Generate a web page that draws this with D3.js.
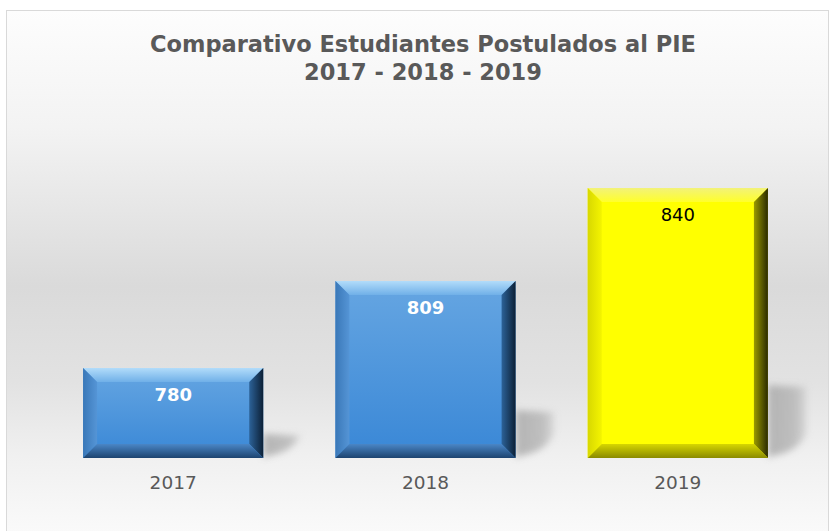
<!DOCTYPE html>
<html>
<head>
<meta charset="utf-8">
<script src="https://cdn.jsdelivr.net/npm/d3@7"></script>
<style>
  html, body { margin: 0; padding: 0; background: #fff; }
  svg { display: block; }
</style>
</head>
<body>
<div id="chart"></div>
<script>
// datos
const years = ["2017", "2018", "2019"];
const values = [780, 809, 840];
const titleLines = ["Comparativo Estudiantes Postulados al PIE", "2017 - 2018 - 2019"];
const yDomain = [750, 850];

const width = 829, height = 531;
const plot = { left: 47, right: 804, top: 158, bottom: 458 };
const bevel = 14;

const svg = d3.select("#chart").append("svg")
  .attr("width", width)
  .attr("height", height);

const defs = svg.append("defs");

function linGrad(id, x1, y1, x2, y2, stops) {
  const g = defs.append("linearGradient").attr("id", id)
    .attr("x1", x1).attr("y1", y1).attr("x2", x2).attr("y2", y2);
  stops.forEach(s => g.append("stop").attr("offset", s[0]).attr("stop-color", s[1]));
}

// fondo
linGrad("bg", 0, 0, 0, 1, [
  ["0%", "#fdfdfd"], ["22%", "#f3f3f3"], ["52%", "#dadada"],
  ["70%", "#e2e2e2"], ["84%", "#f0f0f0"], ["100%", "#fbfbfb"]
]);

// paletas de biseles
const palettes = {
  blue: {
    face: ["#66a6e2", "#3987d6"],
    top: ["#b2dcfa", "#70b0e8"],
    left: ["#3a78b8", "#5595d6"],
    right: ["#2c6298", "#0c2036"],
    bottom: ["#4a86c6", "#1d4470"],
    label: "#fff", weight: "bold"
  },
  yellow: {
    face: ["#ffff00", "#ffff00"],
    top: ["#f2f27a", "#ffff2a"],
    left: ["#d8d800", "#f4f400"],
    right: ["#9a9a00", "#2a2a00"],
    bottom: ["#d6d600", "#8a8a00"],
    label: "#000", weight: "normal"
  }
};

Object.entries(palettes).forEach(([k, p]) => {
  linGrad(k + "-face", 0, 0, 0, 1, [["0%", p.face[0]], ["100%", p.face[1]]]);
  linGrad(k + "-top", 0, 0, 0, 1, [["0%", p.top[0]], ["100%", p.top[1]]]);
  linGrad(k + "-left", 0, 0, 1, 0, [["0%", p.left[0]], ["100%", p.left[1]]]);
  linGrad(k + "-right", 0, 0, 1, 0, [["0%", p.right[0]], ["100%", p.right[1]]]);
  linGrad(k + "-bottom", 0, 0, 0, 1, [["0%", p.bottom[0]], ["100%", p.bottom[1]]]);
});

linGrad("shadow", 0, 0, 1, 0, [["0%", "#a6a6a6"], ["70%", "#b4b4b4"], ["100%", "#d0d0d0"]]);

defs.append("filter").attr("id", "blur")
  .attr("x", "-50%").attr("y", "-50%").attr("width", "200%").attr("height", "200%")
  .append("feGaussianBlur").attr("stdDeviation", 3.5);

svg.append("rect")
  .attr("x", 6.5).attr("y", 10.5)
  .attr("width", 822).attr("height", 530)
  .attr("fill", "url(#bg)")
  .attr("stroke", "#d9d9d9");

// titulo
svg.append("g").selectAll("text")
  .data(titleLines)
  .join("text")
  .attr("x", 423)
  .attr("y", (d, i) => 52 + i * 28)
  .attr("text-anchor", "middle")
  .attr("font-family", "DejaVu Sans, Verdana, sans-serif")
  .attr("font-weight", "bold")
  .attr("font-size", 22.5)
  .attr("fill", "#595959")
  .text(d => d);

const x = d3.scaleBand().domain(years).range([plot.left, plot.right]).paddingInner(0.286).paddingOuter(0.143);
const y = d3.scaleLinear().domain(yDomain).range([plot.bottom, plot.top]);
const color = d3.scaleOrdinal().domain(years).range(["blue", "blue", "yellow"]);

const data = years.map((yr, i) => ({ year: yr, value: values[i] }));

// sombras
svg.append("g").selectAll("path")
  .data(data)
  .join("path")
  .attr("filter", "url(#blur)")
  .attr("fill", "url(#shadow)")
  .attr("opacity", 0.8)
  .attr("d", d => {
    const x1 = x(d.year) + x.bandwidth();
    const b = y(yDomain[0]);
    const h = b - y(d.value);
    const t = b - h * 0.27;
    return `M${x1},${t} L${x1 + 38},${t + 2} L${x1 + 38},${b - 24} Q${x1 + 30},${b - 6} ${x1 + 4},${b - 2} L${x1},${b} Z`;
  });

// barras
const bars = svg.append("g").selectAll("g")
  .data(data)
  .join("g");

bars.each(function(d) {
  const g = d3.select(this);
  const k = color(d.year);
  const x0 = x(d.year), x1 = x0 + x.bandwidth();
  const y0 = y(d.value), y1 = y(yDomain[0]);
  const b = bevel;
  g.append("rect")
    .attr("x", x0).attr("y", y0)
    .attr("width", x1 - x0).attr("height", y1 - y0)
    .attr("fill", `url(#${k}-face)`);
  const polys = {
    top: [[x0, y0], [x1, y0], [x1 - b, y0 + b], [x0 + b, y0 + b]],
    left: [[x0, y0], [x0 + b, y0 + b], [x0 + b, y1 - b], [x0, y1]],
    right: [[x1, y0], [x1 - b, y0 + b], [x1 - b, y1 - b], [x1, y1]],
    bottom: [[x0, y1], [x1, y1], [x1 - b, y1 - b], [x0 + b, y1 - b]]
  };
  Object.entries(polys).forEach(([side, pts]) => {
    g.append("polygon")
      .attr("points", pts.map(p => p.join(",")).join(" "))
      .attr("fill", `url(#${k}-${side})`);
  });
  g.append("text")
    .attr("x", (x0 + x1) / 2)
    .attr("y", y0 + 33)
    .attr("text-anchor", "middle")
    .attr("font-family", "DejaVu Sans, Verdana, sans-serif")
    .attr("font-size", 18)
    .attr("font-weight", palettes[k].weight)
    .attr("fill", palettes[k].label)
    .text(d.value);
});

// eje x
const xAxis = svg.append("g")
  .attr("transform", `translate(0,${plot.bottom})`)
  .call(d3.axisBottom(x).tickSize(0).tickPadding(18));
xAxis.select(".domain").remove();
xAxis.selectAll("text")
  .attr("font-family", "DejaVu Sans, Verdana, sans-serif")
  .attr("font-size", 18.5)
  .attr("fill", "#595959");
</script>
</body>
</html>
